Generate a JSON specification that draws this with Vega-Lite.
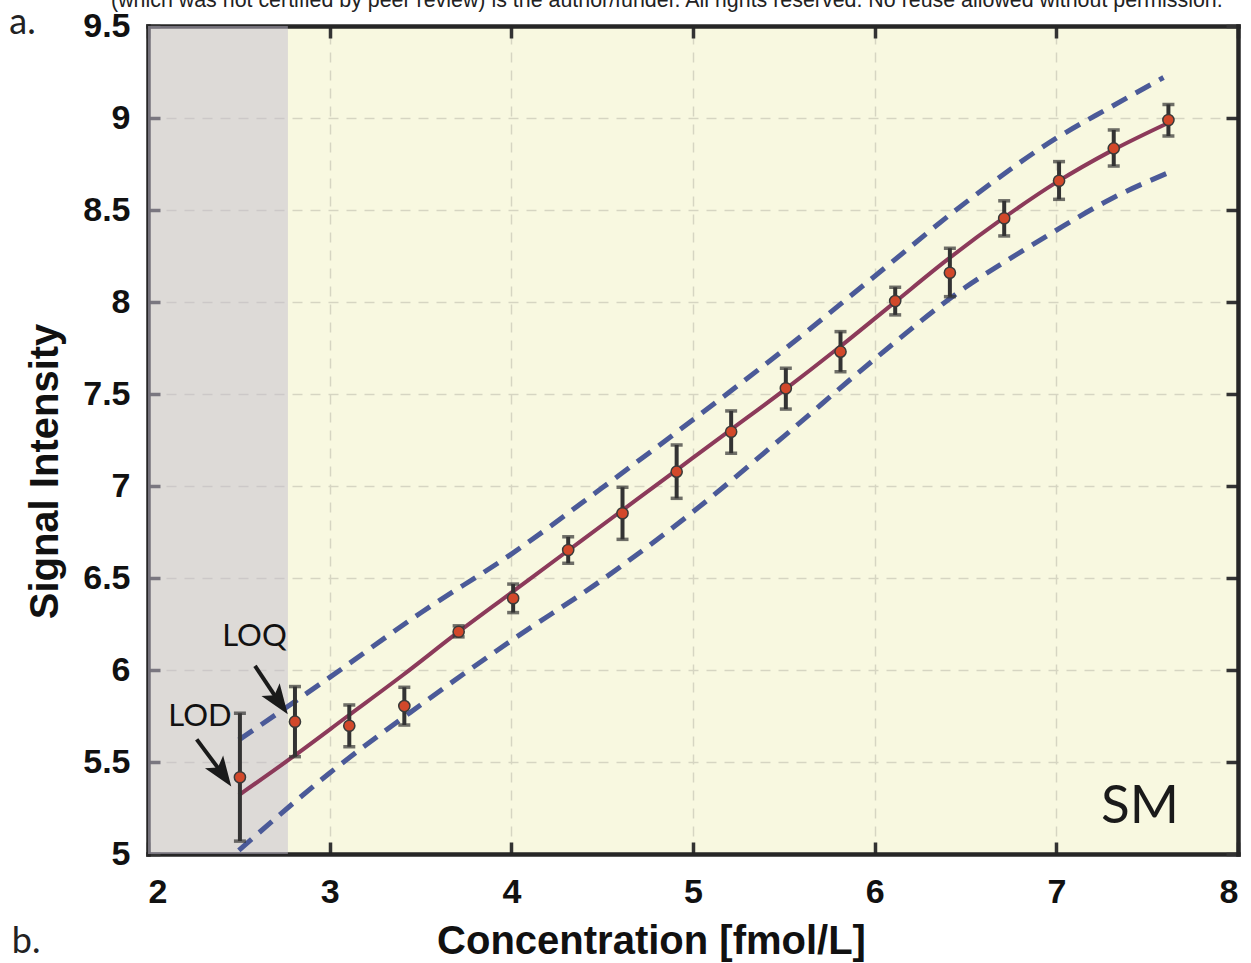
{
  "$schema": "https://vega.github.io/schema/vega-lite/v6.json",
  "width": 1090,
  "height": 828,
  "autosize": {"type": "none"},
  "padding": {"left": 148, "top": 26, "right": 13, "bottom": 109},
  "background": "white",
  "config": {
    "view": {"fill": "#F8F8E0", "stroke": null},
    "axis": {
      "labelFont": "Liberation Sans", "labelFontWeight": "bold", "labelFontSize": 34, "labelColor": "#111",
      "titleFont": "Liberation Sans", "titleFontWeight": "bold", "titleFontSize": 40, "titleColor": "#111",
      "gridColor": "#D6D5C2", "gridDash": [10, 8], "gridWidth": 1.5,
      "tickColor": "#333333", "tickWidth": 3.5, "tickSize": -12,
      "domain": true, "domainColor": "#262626", "domainWidth": 4.5, "domainCap": "square"
    }
  },
  "datasets": {
    "region": [{"start": 2, "end": 2.77}],
    "points": [
      {"conc": 2.506, "signal": 5.417, "lo": 5.07, "hi": 5.765},
      {"conc": 2.809, "signal": 5.719, "lo": 5.529, "hi": 5.91},
      {"conc": 3.108, "signal": 5.697, "lo": 5.583, "hi": 5.81},
      {"conc": 3.411, "signal": 5.804, "lo": 5.701, "hi": 5.906},
      {"conc": 3.71, "signal": 6.208, "lo": 6.18, "hi": 6.24},
      {"conc": 4.01, "signal": 6.39, "lo": 6.312, "hi": 6.467},
      {"conc": 4.313, "signal": 6.652, "lo": 6.58, "hi": 6.724},
      {"conc": 4.612, "signal": 6.852, "lo": 6.71, "hi": 6.993},
      {"conc": 4.91, "signal": 7.078, "lo": 6.933, "hi": 7.223},
      {"conc": 5.21, "signal": 7.295, "lo": 7.178, "hi": 7.408},
      {"conc": 5.511, "signal": 7.531, "lo": 7.418, "hi": 7.64},
      {"conc": 5.812, "signal": 7.73, "lo": 7.621, "hi": 7.839},
      {"conc": 6.113, "signal": 8.005, "lo": 7.93, "hi": 8.08},
      {"conc": 6.414, "signal": 8.159, "lo": 8.029, "hi": 8.292},
      {"conc": 6.713, "signal": 8.455, "lo": 8.359, "hi": 8.55},
      {"conc": 7.015, "signal": 8.659, "lo": 8.558, "hi": 8.763},
      {"conc": 7.316, "signal": 8.835, "lo": 8.739, "hi": 8.935},
      {"conc": 7.617, "signal": 8.989, "lo": 8.902, "hi": 9.074}
    ],
    "fit": [
      {"conc": 2.5, "signal": 5.32}, {"conc": 2.8, "signal": 5.53}, {"conc": 3.1, "signal": 5.75},
      {"conc": 3.4, "signal": 5.97}, {"conc": 3.7, "signal": 6.2}, {"conc": 4.0, "signal": 6.42},
      {"conc": 4.3, "signal": 6.64}, {"conc": 4.6, "signal": 6.86}, {"conc": 4.9, "signal": 7.08},
      {"conc": 5.2, "signal": 7.3}, {"conc": 5.5, "signal": 7.52}, {"conc": 5.8, "signal": 7.75},
      {"conc": 6.1, "signal": 7.99}, {"conc": 6.4, "signal": 8.23}, {"conc": 6.7, "signal": 8.45},
      {"conc": 7.0, "signal": 8.65}, {"conc": 7.3, "signal": 8.82}, {"conc": 7.63, "signal": 8.98}
    ],
    "bands": [
      {"bound": "upper", "conc": 2.5, "signal": 5.62}, {"bound": "upper", "conc": 3.0, "signal": 5.96},
      {"bound": "upper", "conc": 3.5, "signal": 6.31}, {"bound": "upper", "conc": 4.0, "signal": 6.63},
      {"bound": "upper", "conc": 4.5, "signal": 6.99}, {"bound": "upper", "conc": 5.0, "signal": 7.36},
      {"bound": "upper", "conc": 5.5, "signal": 7.74}, {"bound": "upper", "conc": 6.0, "signal": 8.14},
      {"bound": "upper", "conc": 6.5, "signal": 8.54}, {"bound": "upper", "conc": 7.0, "signal": 8.89},
      {"bound": "upper", "conc": 7.3, "signal": 9.06}, {"bound": "upper", "conc": 7.59, "signal": 9.22},
      {"bound": "lower", "conc": 2.5, "signal": 5.02}, {"bound": "lower", "conc": 3.0, "signal": 5.44},
      {"bound": "lower", "conc": 3.5, "signal": 5.81}, {"bound": "lower", "conc": 4.0, "signal": 6.16},
      {"bound": "lower", "conc": 4.5, "signal": 6.49}, {"bound": "lower", "conc": 5.0, "signal": 6.86},
      {"bound": "lower", "conc": 5.5, "signal": 7.27}, {"bound": "lower", "conc": 6.0, "signal": 7.69},
      {"bound": "lower", "conc": 6.5, "signal": 8.08}, {"bound": "lower", "conc": 6.76, "signal": 8.245},
      {"bound": "lower", "conc": 7.0, "signal": 8.39}, {"bound": "lower", "conc": 7.3, "signal": 8.56},
      {"bound": "lower", "conc": 7.61, "signal": 8.7}
    ],
    "arrows": [
      {"name": "LOD", "x0": 2.268, "y0": 5.623, "x1": 2.411, "y1": 5.434},
      {"name": "LOQ", "x0": 2.589, "y0": 6.022, "x1": 2.722, "y1": 5.826}
    ],
    "labels": [
      {"text": "LOD", "conc": 2.286, "signal": 5.747},
      {"text": "LOQ", "conc": 2.586, "signal": 6.182}
    ],
    "panel": [{"text": "SM", "conc": 7.46, "signal": 5.253}],
    "letters": [
      {"text": "a.", "conc": 1.309, "signal": 9.457},
      {"text": "b.", "conc": 1.329, "signal": 4.462}
    ],
    "header": [
      {"text": "(which was not certified by peer review) is the author/funder. All rights reserved. No reuse allowed without permission.", "conc": 4.856, "signal": 9.605}
    ]
  },
  "resolve": {"axis": {"x": "independent", "y": "independent"}},
  "layer": [
    {
      "data": {"name": "region"},
      "mark": {"type": "rect", "fill": "#C2BCCD", "opacity": 0.5},
      "encoding": {
        "x": {"field": "start", "type": "quantitative",
          "scale": {"domain": [2, 8], "nice": false, "zero": false},
          "axis": {"orient": "bottom", "values": [2, 3, 4, 5, 6, 7, 8], "grid": true,
            "labelPadding": 33, "title": "Concentration [fmol/L]",
            "titleX": 503, "titleY": 99, "titleBaseline": "alphabetic", "titleAnchor": "middle", "titleAlign": "center"}},
        "x2": {"field": "end"}
      }
    },
    {
      "data": {"name": "bands"},
      "mark": {"type": "line", "color": "#4B5A98", "strokeWidth": 5, "strokeDash": [17, 10], "interpolate": "monotone"},
      "encoding": {
        "x": {"field": "conc", "type": "quantitative",
          "axis": {"orient": "top", "values": [2, 3, 4, 5, 6, 7, 8], "labels": false, "grid": false, "title": null}},
        "y": {"field": "signal", "type": "quantitative",
          "scale": {"domain": [5, 9.5], "nice": false, "zero": false},
          "axis": {"orient": "right", "values": [5, 5.5, 6, 6.5, 7, 7.5, 8, 8.5, 9, 9.5], "labels": false, "grid": false, "title": null}},
        "detail": {"field": "bound"}
      }
    },
    {
      "data": {"name": "fit"},
      "mark": {"type": "line", "color": "#8C3A5A", "strokeWidth": 4, "interpolate": "monotone"},
      "encoding": {
        "x": {"field": "conc", "type": "quantitative", "axis": null},
        "y": {"field": "signal", "type": "quantitative",
          "axis": {"orient": "left", "values": [5, 5.5, 6, 6.5, 7, 7.5, 8, 8.5, 9, 9.5], "format": ".1~f", "grid": true,
            "labelPadding": 30, "title": "Signal Intensity",
            "titleX": -91, "titleY": 445, "titleBaseline": "alphabetic", "titleAngle": 270, "titleAlign": "center", "titleAnchor": "middle"}}
      }
    },
    {
      "data": {"name": "points"},
      "mark": {"type": "rule", "color": "#333333", "strokeWidth": 4},
      "encoding": {
        "x": {"field": "conc", "type": "quantitative", "axis": null},
        "y": {"field": "lo", "type": "quantitative", "axis": null},
        "y2": {"field": "hi"}
      }
    },
    {
      "data": {"name": "points"},
      "mark": {"type": "tick", "orient": "horizontal", "color": "#333333", "size": 12, "thickness": 3.5},
      "encoding": {
        "x": {"field": "conc", "type": "quantitative", "axis": null},
        "y": {"field": "lo", "type": "quantitative", "axis": null}
      }
    },
    {
      "data": {"name": "points"},
      "mark": {"type": "tick", "orient": "horizontal", "color": "#333333", "size": 12, "thickness": 3.5},
      "encoding": {
        "x": {"field": "conc", "type": "quantitative", "axis": null},
        "y": {"field": "hi", "type": "quantitative", "axis": null}
      }
    },
    {
      "data": {"name": "points"},
      "mark": {"type": "point", "shape": "circle", "filled": true, "size": 125, "fill": "#D2482A", "stroke": "#3a3a3a", "strokeWidth": 1.5, "opacity": 1},
      "encoding": {
        "x": {"field": "conc", "type": "quantitative", "axis": null},
        "y": {"field": "signal", "type": "quantitative", "axis": null}
      }
    },
    {
      "data": {"name": "arrows"},
      "mark": {"type": "rule", "color": "#1a1a1a", "strokeWidth": 4},
      "encoding": {
        "x": {"field": "x0", "type": "quantitative", "axis": null},
        "y": {"field": "y0", "type": "quantitative", "axis": null},
        "x2": {"field": "x1"},
        "y2": {"field": "y1"}
      }
    },
    {
      "data": {"name": "arrows"},
      "mark": {"type": "point", "shape": "M0,1 L-0.74,-1 L0,-0.55 L0.74,-1 Z", "filled": true, "size": 900, "color": "#1a1a1a", "opacity": 1, "angle": 325},
      "encoding": {
        "x": {"field": "x1", "type": "quantitative", "axis": null},
        "y": {"field": "y1", "type": "quantitative", "axis": null}
      }
    },
    {
      "data": {"name": "labels"},
      "mark": {"type": "text", "font": "Lato", "fontSize": 31, "color": "#111", "align": "center", "baseline": "middle"},
      "encoding": {
        "x": {"field": "conc", "type": "quantitative", "axis": null},
        "y": {"field": "signal", "type": "quantitative", "axis": null},
        "text": {"field": "text"}
      }
    },
    {
      "data": {"name": "panel"},
      "mark": {"type": "text", "font": "Lato", "fontSize": 53, "color": "#1a1a1a", "align": "center", "baseline": "middle"},
      "encoding": {
        "x": {"field": "conc", "type": "quantitative", "axis": null},
        "y": {"field": "signal", "type": "quantitative", "axis": null},
        "text": {"field": "text"}
      }
    },
    {
      "data": {"name": "letters"},
      "mark": {"type": "text", "font": "Lato", "fontSize": 36, "color": "#222", "align": "center", "baseline": "alphabetic"},
      "encoding": {
        "x": {"field": "conc", "type": "quantitative", "axis": null},
        "y": {"field": "signal", "type": "quantitative", "axis": null},
        "text": {"field": "text"}
      }
    },
    {
      "data": {"name": "header"},
      "mark": {"type": "text", "font": "Liberation Sans", "fontSize": 21.4, "color": "#222", "align": "center", "baseline": "alphabetic"},
      "encoding": {
        "x": {"field": "conc", "type": "quantitative", "axis": null},
        "y": {"field": "signal", "type": "quantitative", "axis": null},
        "text": {"field": "text"}
      }
    }
  ]
}
